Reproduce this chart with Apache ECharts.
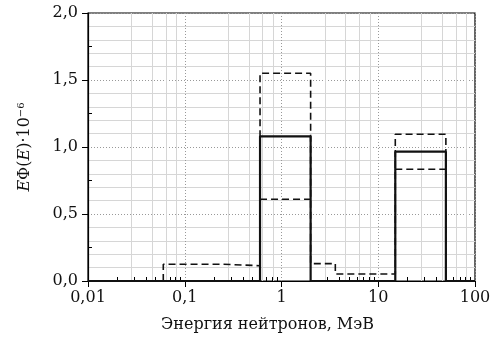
<!DOCTYPE html>
<html>
<head>
<meta charset="utf-8">
<script src="https://cdn.jsdelivr.net/npm/echarts@6/dist/echarts.min.js"></script>
<style>
  html, body { margin: 0; padding: 0; background: #fff; }
  #chart { width: 490px; height: 343px; }
</style>
</head>
<body>
<div id="chart"></div>
<script>
// bin edges (MeV) and heights
const solidEdges = [0.01, 0.6, 2, 15, 50, 100];
const solidValues = [0, 1.08, 0, 0.965, 0];

const upperEdges = [0.06, 0.25, 0.6, 2, 3.6, 15, 50];
const upperValues = [0.125, 0.114, 1.55, 0.13, 0.052, 1.095];

const lowerEdges = [0.6, 2, 15, 50];
const lowerValues = [0.61, null, 0.834];

const xTicks = [0.01, 0.1, 1, 10, 100];
const yTicks = [0, 0.5, 1, 1.5, 2];

const FONT = 'DejaVu Serif';
const INK = '#111';

// turn edges + heights into the corner points of a step outline
function stepPoints(edges, values, start, end) {
  const pts = [];
  if (start != null) pts.push([edges[0], start]);
  values.forEach((v, i) => {
    if (v == null) { pts.push([edges[i], '-']); return; }
    pts.push([edges[i], v], [edges[i + 1], v]);
  });
  if (end != null) pts.push([edges[edges.length - 1], end]);
  return pts;
}

const chart = echarts.init(document.getElementById('chart'), null, { renderer: 'canvas' });

const xBase = {
  type: 'log',
  logBase: 10,
  min: xTicks[0],
  max: xTicks[xTicks.length - 1]
};
const yBase = {
  type: 'value',
  min: yTicks[0],
  max: yTicks[yTicks.length - 1],
  interval: 0.5
};

const option = {
  animation: false,
  backgroundColor: '#fff',
  grid: {
    left: 88, right: 15, top: 13, bottom: 62,
    outerBoundsMode: 'none',
    show: true, borderColor: '#000', borderWidth: 1.2
  },
  xAxis: [
    {
      ...xBase,
      name: 'Энергия нейтронов, МэВ',
      nameLocation: 'middle',
      nameGap: 36,
      nameTextStyle: { fontFamily: FONT, fontSize: 16, color: INK, padding: [0, 28, 0, 0] },
      axisLine: { lineStyle: { color: '#000', width: 1.2 } },
      axisTick: { length: 6, lineStyle: { color: '#000' } },
      axisLabel: {
        fontFamily: FONT, fontSize: 16, color: INK, margin: 9,
        formatter: v => {
          const n = +(+v).toPrecision(6);
          return xTicks.indexOf(n) >= 0 ? String(n).replace('.', ',') : '';
        }
      },
      splitLine: { show: true, lineStyle: { color: '#999', type: [1, 2], width: 1 } },
      minorSplitLine: { show: true, lineStyle: { color: '#d6d6d6', width: 1 } }
    },
    {
      // only the inward minor ticks
      ...xBase,
      position: 'bottom',
      axisLine: { show: false },
      axisTick: { show: false, inside: true },
      minorTick: { show: true, splitNumber: 9, length: 4, lineStyle: { color: '#000' } },
      axisLabel: { show: false },
      splitLine: { show: false }
    }
  ],
  yAxis: [
    {
      ...yBase,
      name: '{i|E}Φ({i|E})·10{s|−6}',
      nameLocation: 'middle',
      nameGap: 54,
      nameTextStyle: {
        fontFamily: FONT, fontSize: 16, color: INK,
        rich: {
          i: { fontFamily: FONT, fontSize: 16, fontStyle: 'italic', color: INK },
          s: { fontFamily: FONT, fontSize: 10, color: INK, verticalAlign: 'top', padding: [0, 0, 8, 0] }
        }
      },
      axisLine: { show: true, lineStyle: { color: '#000', width: 1.2 } },
      axisTick: { show: true, length: 6, lineStyle: { color: '#000' } },
      axisLabel: {
        fontFamily: FONT, fontSize: 16, color: INK, margin: 10,
        formatter: v => v.toFixed(1).replace('.', ',')
      },
      splitLine: { show: true, lineStyle: { color: '#999', type: [1, 2], width: 1 } },
      minorSplitLine: { show: true, lineStyle: { color: '#d6d6d6', width: 1 } }
    },
    {
      ...yBase,
      position: 'left',
      axisLine: { show: false },
      axisTick: { show: false, inside: true },
      minorTick: { show: true, splitNumber: 2, length: 4, lineStyle: { color: '#000' } },
      axisLabel: { show: false },
      splitLine: { show: false }
    }
  ],
  series: [
    {
      name: 'upper',
      type: 'line',
      data: stepPoints(upperEdges, upperValues, 0, 0),
      symbol: 'none',
      connectNulls: false,
      lineStyle: { color: INK, width: 1.6, type: [7, 4] },
      z: 2
    },
    {
      name: 'lower',
      type: 'line',
      data: stepPoints(lowerEdges, lowerValues),
      symbol: 'none',
      connectNulls: false,
      lineStyle: { color: INK, width: 1.6, type: [7, 4] },
      z: 2
    },
    {
      name: 'main',
      type: 'line',
      data: stepPoints(solidEdges, solidValues),
      symbol: 'none',
      lineStyle: { color: INK, width: 2.2 },
      z: 3
    }
  ]
};

chart.setOption(option);
</script>
</body>
</html>
